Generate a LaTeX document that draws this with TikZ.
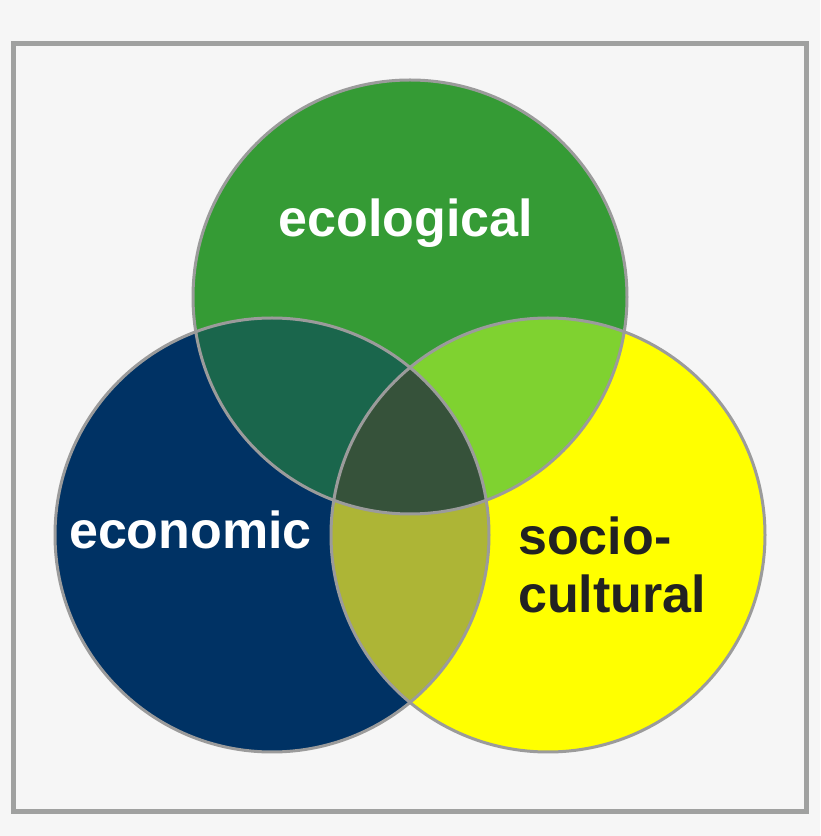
\documentclass[tikz,border=0pt]{standalone}
\usepackage{fontspec}
\setmainfont{Liberation Sans}
\definecolor{bggray}{HTML}{F6F6F6}
\definecolor{framegray}{HTML}{A0A1A0}
\definecolor{ringgray}{HTML}{9B9B9B}
\definecolor{ecogreen}{HTML}{359B35}
\definecolor{econblue}{HTML}{003264}
\definecolor{socyellow}{HTML}{FFFF00}
\definecolor{ecoecon}{HTML}{1A664C}
\definecolor{ecosoc}{HTML}{7FD230}
\definecolor{econsoc}{HTML}{ADB536}
\definecolor{allthree}{HTML}{36523A}
\definecolor{darktext}{HTML}{222222}

\begin{document}
\begin{tikzpicture}[x=1pt,y=1pt,
		ring/.style={draw=ringgray,line width=3pt},
		lbl/.style={inner sep=0pt,font=\fontsize{52}{58}\selectfont\bfseries}]
	\fill[bggray] (0,0) rectangle (820,836);
	\draw[framegray,line width=5pt] (13.5,24) rectangle (806,792.5);

	% the three circles
	\fill[ecogreen]  (410,539) circle (217);
	\fill[econblue]  (272,301) circle (217);
	\fill[socyellow] (548,301) circle (217);

	% overlaps
	\begin{scope}
		\clip (410,539) circle (217);
		\fill[ecoecon] (272,301) circle (217);
		\fill[ecosoc]  (548,301) circle (217);
	\end{scope}
	\begin{scope}
		\clip (272,301) circle (217);
		\fill[econsoc] (548,301) circle (217);
		\clip (548,301) circle (217);
		\fill[allthree] (410,539) circle (217);
	\end{scope}

	\draw[ring] (410,539) circle (217);
	\draw[ring] (272,301) circle (217);
	\draw[ring] (548,301) circle (217);

	\node[lbl,white,anchor=base]  (eco)   at (406,599) {ecological};
	\node[lbl,white,anchor=base]  (econ)  at (190.5,287) {economic};
	\node[lbl,darktext,anchor=base west,align=left] (socio) at (518,223) {socio-\\cultural};
\end{tikzpicture}
\end{document}
